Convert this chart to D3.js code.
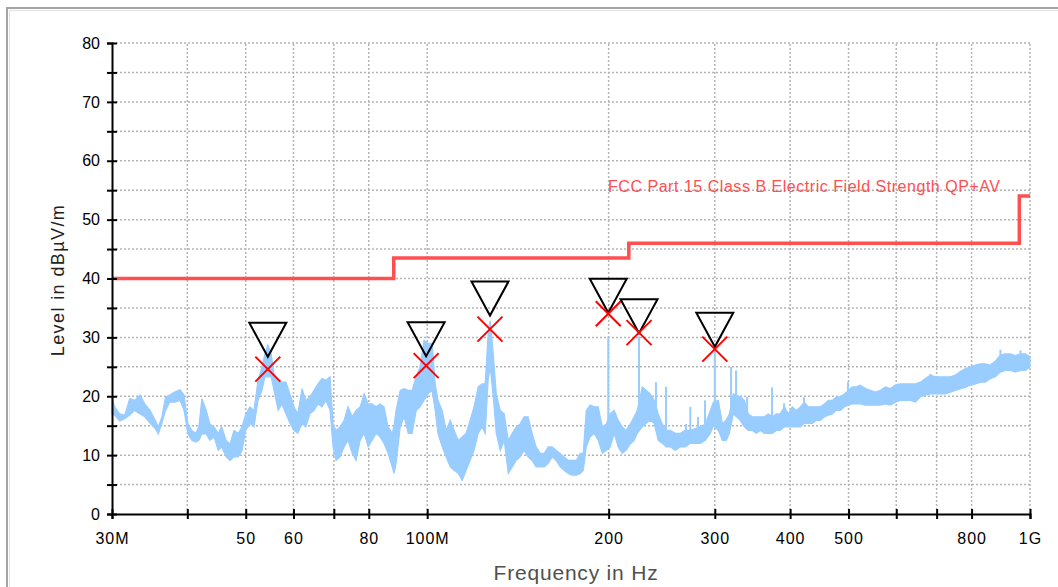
<!DOCTYPE html>
<html lang="en">
<head>
<meta charset="UTF-8">
<title>Radiated emission scan</title>
<script src="https://cdn.jsdelivr.net/npm/d3@7"></script>
<style>
  body { margin: 0; background: #fff; font-family: "Liberation Sans", Arial, sans-serif; }
  .grid line { stroke: #b4b4b4; stroke-width: 1.5; stroke-dasharray: 2,2; }
  .axis path, .axis line { stroke: #000; stroke-width: 2; }
  .axis text { font-family: "Liberation Sans", Arial, sans-serif; font-size: 16px; fill: #000; }
  .xaxis text { letter-spacing: 1px; }
</style>
</head>
<body>
<svg width="1058" height="587"></svg>
<script>
// measured trace, MHz / dBuV/m (min and max of the sweep per step)
const traceFreq = [30.0, 30.3, 30.9, 31.5, 32.1, 32.7, 33.4, 34.0, 34.7, 35.4, 35.8, 36.3, 36.8, 37.4, 38.1, 38.9, 39.5, 40.1, 40.7, 41.3,
  41.8, 42.3, 43.0, 43.6, 44.3, 45.0, 45.6, 46.4, 47.1, 47.8, 48.6, 49.3, 50.0, 50.8, 51.6, 52.4, 53.2, 53.8, 54.4, 55.1,
  55.7, 56.6, 57.4, 58.3, 59.2, 60.1, 61.0, 62.0, 62.9, 63.9, 64.9, 65.9, 66.9, 67.9, 69.0, 69.8, 70.6, 71.7, 72.8, 73.9,
  75.1, 76.2, 77.4, 78.6, 79.8, 81.0, 82.3, 83.5, 84.8, 86.1, 87.5, 88.1, 88.8, 90.2, 91.6, 93.0, 94.4, 95.9, 97.3, 98.8,
  100.3, 101.9, 103.1, 104.2, 105.9, 107.5, 109.2, 110.9, 112.6, 114.3, 116.0, 117.8, 119.6, 121.5, 123.3, 124.8, 126.2, 127.2, 128.7, 130.2,
  132.2, 134.2, 136.3, 138.4, 140.5, 142.6, 144.8, 147.0, 149.3, 151.6, 154.0, 156.4, 158.8, 161.2, 163.7, 166.2, 168.8, 171.4, 174.0, 176.7,
  179.4, 181.5, 183.6, 186.4, 189.3, 192.2, 195.2, 198.2, 201.2, 204.3, 207.4, 210.6, 213.8, 217.2, 220.5, 223.1, 227.4, 230.9, 234.4, 238.0,
  241.7, 245.5, 249.2, 253.1, 258.0, 262.9, 268.0, 273.2, 278.5, 283.8, 289.3, 294.9, 298.3, 304.1, 308.8, 313.5, 317.1, 322.0, 330.7, 335.8,
  341.0, 346.2, 351.6, 357.0, 362.5, 368.1, 373.8, 379.5, 385.3, 391.2, 397.2, 403.4, 409.6, 415.9, 422.3, 428.8, 435.4, 442.1, 449.0, 455.9,
  462.9, 470.0, 477.2, 484.6, 492.1, 499.6, 507.4, 515.2, 523.1, 533.2, 543.5, 554.0, 564.7, 575.6, 586.7, 598.0, 609.5, 621.3, 633.3, 645.5,
  657.9, 670.6, 683.6, 696.8, 710.2, 723.9, 737.9, 752.1, 766.6, 781.4, 796.5, 811.9, 827.5, 843.5, 859.7, 876.3, 893.2, 910.4, 928.0, 945.9,
  964.2, 982.8, 1000];
const traceLo = [17.0, 16.8, 15.8, 16.2, 16.8, 17.6, 17.0, 16.5, 15.4, 14.5, 13.6, 15.4, 17.6, 19.0, 19.0, 19.3, 17.6, 13.6, 12.5, 12.2,
  12.5, 13.6, 13.6, 12.5, 13.1, 10.8, 11.4, 9.7, 9.1, 9.7, 9.7, 10.8, 14.2, 15.4, 14.8, 19.3, 21.0, 23.3, 23.3, 23.3,
  21.0, 17.6, 18.7, 17.0, 15.4, 14.2, 13.7, 15.4, 14.8, 17.0, 17.6, 18.7, 18.2, 19.3, 17.6, 11.4, 9.1, 9.7, 11.4, 12.5,
  10.3, 9.1, 12.5, 13.7, 11.4, 12.5, 13.7, 13.1, 12.0, 10.3, 8.0, 6.9, 8.6, 14.8, 16.5, 13.7, 13.7, 17.6, 18.2, 19.3,
  20.4, 21.0, 17.6, 13.7, 11.4, 9.7, 8.0, 7.4, 6.9, 5.7, 7.4, 9.1, 10.8, 13.7, 14.8, 13.7, 22.7, 25.0, 19.9, 13.7,
  10.8, 12.5, 6.9, 8.0, 9.1, 9.7, 10.8, 9.7, 9.1, 8.0, 8.0, 8.0, 8.6, 9.7, 9.1, 8.0, 7.4, 6.9, 6.6, 6.6,
  6.9, 7.4, 11.4, 13.1, 13.7, 12.5, 10.3, 10.8, 11.4, 13.7, 11.4, 10.3, 10.8, 11.9, 12.5, 13.7, 14.8, 15.4, 15.9, 15.4,
  12.5, 12.0, 11.4, 11.4, 10.8, 11.4, 11.4, 12.0, 12.0, 12.0, 12.5, 13.7, 15.0, 14.2, 12.5, 12.5, 13.7, 17.0, 15.9, 14.8,
  14.2, 14.2, 13.7, 14.2, 13.7, 13.7, 13.7, 14.2, 14.2, 14.8, 14.8, 14.8, 14.8, 14.8, 15.4, 15.4, 15.4, 15.9, 15.9, 16.5,
  16.8, 17.0, 17.6, 17.6, 18.2, 18.5, 18.7, 18.7, 18.7, 18.5, 18.5, 18.5, 18.5, 18.7, 18.5, 19.0, 19.3, 19.3, 19.3, 19.0,
  19.9, 20.2, 20.4, 20.4, 20.4, 20.4, 20.7, 21.0, 21.3, 21.5, 21.9, 22.1, 22.4, 22.4, 23.0, 23.3, 24.1, 24.4, 24.4, 24.1,
  24.4, 24.4, 25.0];
const traceHi = [19.8, 18.2, 17.0, 16.8, 19.6, 19.3, 20.2, 18.7, 17.6, 15.9, 14.8, 16.5, 19.9, 20.2, 20.7, 21.1, 20.2, 15.3, 14.2, 13.7,
  14.8, 19.6, 17.6, 15.3, 14.8, 13.7, 14.8, 12.5, 11.9, 14.2, 13.7, 14.8, 17.0, 18.2, 17.6, 22.7, 25.0, 27.2, 28.7, 27.2,
  23.8, 22.7, 22.4, 22.4, 20.4, 18.2, 17.0, 21.3, 19.3, 19.9, 21.0, 22.1, 23.0, 22.7, 23.3, 15.3, 14.2, 14.8, 15.9, 18.2,
  16.5, 17.6, 18.2, 20.4, 18.7, 18.7, 18.2, 18.7, 18.2, 14.8, 13.7, 15.0, 17.6, 21.0, 21.3, 21.0, 21.0, 23.3, 25.0, 29.5,
  29.0, 29.0, 22.1, 19.3, 17.6, 14.2, 15.9, 14.2, 12.5, 13.1, 13.7, 15.9, 18.2, 21.6, 22.1, 22.1, 30.6, 32.8, 27.2, 20.4,
  17.6, 17.0, 12.5, 13.7, 14.8, 15.3, 16.5, 16.5, 13.7, 11.4, 10.3, 10.3, 11.4, 11.4, 10.8, 10.3, 9.7, 9.1, 9.1, 9.1,
  10.3, 10.3, 17.6, 18.5, 18.2, 18.2, 14.8, 15.3, 17.0, 17.6, 15.9, 14.8, 14.2, 15.3, 16.5, 17.6, 21.6, 21.0, 20.4, 19.3,
  17.0, 15.3, 14.2, 14.2, 13.7, 13.7, 14.2, 14.2, 14.5, 14.8, 15.3, 17.6, 19.0, 19.3, 15.3, 16.0, 17.0, 20.4, 19.9, 19.3,
  17.0, 16.5, 16.5, 16.5, 16.5, 17.0, 16.5, 17.0, 17.0, 18.2, 17.0, 18.2, 17.6, 18.2, 19.0, 18.2, 18.2, 18.2, 18.2, 18.7,
  19.3, 19.3, 19.9, 19.9, 20.4, 21.0, 21.6, 21.6, 21.9, 21.3, 21.0, 20.7, 21.0, 21.6, 21.3, 21.9, 22.1, 22.1, 22.1, 22.1,
  22.4, 23.0, 23.6, 23.3, 23.3, 23.3, 23.3, 23.6, 24.2, 24.7, 25.0, 25.3, 25.5, 25.5, 25.3, 26.0, 27.0, 27.2, 27.2, 26.9,
  27.2, 27.2, 26.7];

// narrowband spikes sticking out of the trace
const spikeFreq = [199.7, 224.6, 239.6, 249.0, 268.8, 273.2, 281.4, 289.0, 300.0, 319.2, 325.4, 339.4, 373.3, 390.9, 421.8, 498.9, 683.6, 893.2, 964.2];
const spikeLevel = [30.1, 30.2, 22.4, 21.6, 15.3, 18.2, 16.5, 19.3, 28.3, 25.0, 24.4, 19.9, 21.5, 18.8, 19.8, 22.4, 23.8, 27.9, 27.8];

// limit line FCC Part 15 class B
const limitFreq = [30, 88, 88, 216, 216, 960, 960, 1000];
const limitLevel = [40, 40, 43.5, 43.5, 46, 46, 54, 54];

// final measurement: peak (triangle) and quasi-peak (cross)
const markerFreq = [54.4, 99.6, 127.1, 199.7, 224.6, 300.0];
const markerPeak = [26.7, 26.8, 33.7, 34.2, 30.7, 28.4];
const markerQP = [24.6, 25.2, 31.4, 34.0, 30.8, 28.0];

const xTickFreq = [30, 40, 50, 60, 70, 80, 100, 200, 300, 400, 500, 600, 700, 800, 1000];
const xLabelFreq = [30, 50, 60, 80, 100, 200, 300, 400, 500, 800, 1000];
const xLabelText = ["30M", "50", "60", "80", "100M", "200", "300", "400", "500", "800", "1G"];
const yTicks = d3.range(0, 81, 5);

const svg = d3.select("svg");
const x = d3.scaleLog().domain([30, 1000]).range([112, 1030]);
const y = d3.scaleLinear().domain([0, 80]).range([514, 43]);

// frame
svg.append("rect").attr("x", 7).attr("y", 8).attr("width", 1100).attr("height", 700)
  .attr("fill", "#fff").attr("stroke", "#a4a4a4").attr("stroke-width", 2);
svg.append("rect").attr("x", 9.5).attr("y", 10.5).attr("width", 1100).attr("height", 700)
  .attr("fill", "none").attr("stroke", "#e2e2e2").attr("stroke-width", 1);

// grid
const grid = svg.append("g").attr("class", "grid");
grid.selectAll(".h").data(yTicks.filter(d => d > 0)).enter().append("line")
  .attr("x1", x(30)).attr("x2", x(1000))
  .attr("y1", d => y(d)).attr("y2", d => y(d));
grid.selectAll(".v").data(xTickFreq.filter(d => d > 30)).enter().append("line")
  .attr("x1", d => x(d)).attr("x2", d => x(d))
  .attr("y1", y(0)).attr("y2", y(80));

// trace
const pts = traceFreq.map((f, i) => ({ f: f, lo: traceLo[i], hi: traceHi[i] }));
const band = d3.area().x(d => x(d.f)).y0(d => y(d.lo)).y1(d => y(d.hi));
svg.append("path").datum(pts).attr("d", band)
  .attr("fill", "#99ccff").attr("stroke", "#99ccff").attr("stroke-width", 1.2);

const bis = d3.bisector(d => d.f).left;
function loAt(f) {
  const i = bis(pts, f);
  const a = pts[Math.max(i - 1, 0)], b = pts[Math.min(i, pts.length - 1)];
  if (a === b) return a.lo;
  const t = (Math.log(f) - Math.log(a.f)) / (Math.log(b.f) - Math.log(a.f));
  return a.lo + (b.lo - a.lo) * t;
}
svg.append("g").selectAll("line").data(spikeFreq).enter().append("line")
  .attr("x1", d => x(d)).attr("x2", d => x(d))
  .attr("y1", (d, i) => y(spikeLevel[i])).attr("y2", d => y(loAt(d)))
  .attr("stroke", "#99ccff").attr("stroke-width", 2);

// limit
const limitLine = d3.line().x(d => x(d[0])).y(d => y(d[1]));
svg.append("path").datum(limitFreq.map((f, i) => [f, limitLevel[i]]))
  .attr("d", limitLine).attr("fill", "none")
  .attr("stroke", "#ff4f4f").attr("stroke-width", 3.5);
svg.append("text").attr("x", 608).attr("y", 192)
  .attr("fill", "#ff4f4f").style("font-size", "16px")
  .attr("textLength", 392).attr("lengthAdjust", "spacing")
  .text("FCC Part 15 Class B Electric Field Strength QP+AV");

// markers
const mk = svg.append("g");
markerFreq.forEach((f, i) => {
  const cx = x(f), py = y(markerPeak[i]), qy = y(markerQP[i]);
  mk.append("path")
    .attr("d", `M${cx},${py}L${cx - 18.5},${py - 34}L${cx + 18.5},${py - 34}Z`)
    .attr("fill", "none").attr("stroke", "#000").attr("stroke-width", 2);
  mk.append("path")
    .attr("d", `M${cx - 12.5},${qy - 12.5}L${cx + 12.5},${qy + 12.5}M${cx - 12.5},${qy + 12.5}L${cx + 12.5},${qy - 12.5}`)
    .attr("stroke", "#ff0000").attr("stroke-width", 2);
});

// axes
const gx = svg.append("g").attr("class", "axis xaxis").attr("transform", `translate(0,${y(0)})`)
  .call(d3.axisBottom(x).tickValues(xTickFreq).tickSizeOuter(0).tickSize(5)
    .tickFormat(d => { const i = xLabelFreq.indexOf(d); return i < 0 ? "" : xLabelText[i]; }));
gx.selectAll(".tick line").attr("y1", -5).attr("y2", 5);
gx.selectAll(".tick text").attr("y", 19);

const gy = svg.append("g").attr("class", "axis").attr("transform", `translate(${x(30)},0)`)
  .call(d3.axisLeft(y).tickValues(yTicks).tickSizeOuter(0).tickSize(5)
    .tickFormat(d => d % 10 === 0 ? d : ""));
gy.selectAll(".tick line").attr("x1", -5).attr("x2", 5);
gy.selectAll(".tick text").attr("x", -12);

svg.append("text").attr("transform", "translate(64,280) rotate(-90)")
  .attr("text-anchor", "middle").style("font-size", "18px").style("letter-spacing", "1.4px")
  .attr("fill", "#222").text("Level in dBµV/m");
svg.append("text").attr("x", 576).attr("y", 580)
  .attr("text-anchor", "middle").style("font-size", "21px").style("letter-spacing", "0.8px")
  .attr("fill", "#505050").text("Frequency in Hz");
</script>
</body>
</html>
